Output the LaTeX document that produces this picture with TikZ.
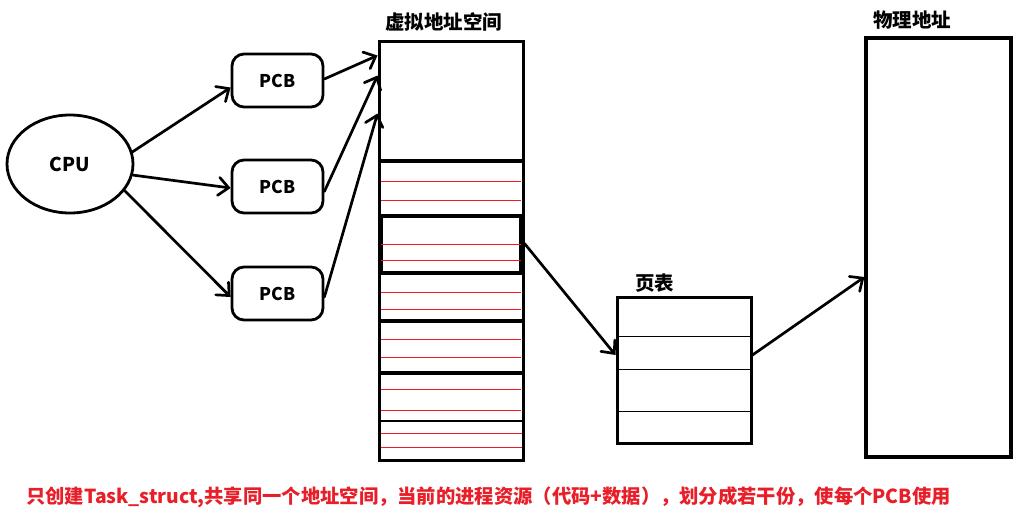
\documentclass[tikz,border=0pt]{standalone}
\usepackage{fontspec}
\setmainfont{Noto Sans CJK SC}
\usetikzlibrary{shapes.geometric,arrows.meta}
\definecolor{pred}{RGB}{237,28,36}
\definecolor{tred}{RGB}{232,30,40}
\begin{document}
\begin{tikzpicture}[x=1pt,y=-1pt,
  box/.style={draw, line width=3pt, inner sep=0pt},
  pcbbox/.style={draw, line width=2.8pt, rounded corners=12pt, minimum width=91pt, minimum height=53pt, inner sep=0pt, font=\fontsize{17.5}{18}\selectfont\bfseries},
  conn/.style={line width=2.7pt, line cap=round, -{Straight Barb[length=10pt,width=18pt,line cap=round]}},
  title/.style={anchor=west, inner sep=0pt, font=\fontsize{19.5}{20}\selectfont\bfseries},
  redline/.style={draw=pred, line width=1pt},
  divider/.style={line width=3.2pt},
  thinline/.style={line width=1pt}]
\useasboundingbox (0,0) rectangle (1017,519);
\fill[white] (0,0) rectangle (1017,519);

% CPU and PCBs
\node[ellipse, draw, line width=2.8pt, minimum width=126pt, minimum height=98pt, inner sep=0pt, font=\fontsize{19}{19}\selectfont\bfseries] (cpu) at (70,164) {CPU};
\node[pcbbox] (pcb1) at (277.5,80.5) {PCB};
\node[pcbbox] (pcb2) at (277.5,186.5) {PCB};
\node[pcbbox] (pcb3) at (277.5,293.5) {PCB};

% virtual address space column
\node[box, minimum width=144pt, minimum height=418pt] (vas) at (451,251) {};
\node[title] (vastitle) at (385,22) {虚拟地址空间};
% sections
\draw[divider] (379,161) -- (523,161);
\draw[divider] (381,216) rectangle (521,273);
\draw[divider] (379,321) -- (523,321);
\draw[divider, line width=3.7pt] (379,373) -- (523,373);
\draw[divider, line width=2.7pt] (379,421) -- (523,421);
% red lines
\foreach \yy in {181,200,244,260,292,309,339,357,389,410}
  \draw[redline] (381,\yy) -- (521,\yy);
\draw[redline] (379.5,433) rectangle (523,447);
\draw[redline] (524.5,244) -- (524.5,260);
\draw[redline] (524.5,389) -- (524.5,410);
\draw[box, fill=none] (379,42) rectangle (523,460);

% page table
\node[draw, line width=3pt, minimum width=134pt, minimum height=146pt, inner sep=0pt] (pt) at (684,370) {};
\node[title] (pttitle) at (635,283) {页表};
\draw[thinline] (618,336) -- (750,336);
\draw[thinline] (618,369) -- (750,369);
\draw[thinline] (618,411) -- (750,411);

% physical address
\node[box, line width=3.2pt, minimum width=145pt, minimum height=419pt] (phys) at (938.5,247.5) {};
\node[title] (phystitle) at (873,20) {物理地址};

% connectors
\draw[conn] (cpu.11) -- ([yshift=-7pt]pcb1.west);
\draw[conn] (cpu.-10) -- ([yshift=-1.5pt]pcb2.west);
\draw[conn] (cpu.-26) -- ([yshift=-3.5pt]pcb3.west);
\draw[conn] ([yshift=1.5pt]pcb1.east) -- ([yshift=-15pt]vas.north west);
\draw[conn] ([yshift=-5pt]pcb2.east) -- ([yshift=-35pt]vas.north west);
\draw[conn] ([yshift=-3.5pt]pcb3.east) -- ([yshift=-73pt]vas.north west);
\draw[conn] ([yshift=-203pt]vas.north east) -- ([yshift=15pt]pt.west);
\draw[conn] ([yshift=15pt]pt.east) -- ([yshift=-29.5pt]phys.west);

% caption
\node[anchor=west, inner sep=0pt, text=tred, font=\fontsize{19.3}{20}\selectfont\bfseries] (caption) at (26,497) {只创建Task\_struct,共享同一个地址空间，当前的进程资源（代码+数据），划分成若干份，使每个PCB使用};
\end{tikzpicture}
\end{document}
